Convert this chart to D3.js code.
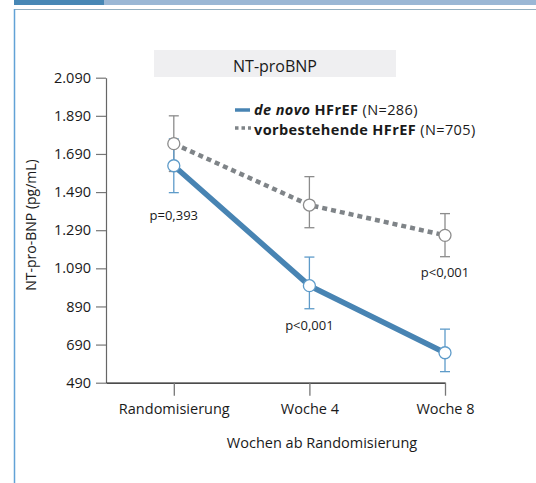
<!DOCTYPE html>
<html>
<head>
<meta charset="utf-8">
<script src="https://cdn.jsdelivr.net/npm/d3@7"></script>
<style>
  body { margin: 0; background: #fff; }
  svg text { font-family: "Open Sans", sans-serif; fill: #1a1a1a; }
</style>
</head>
<body>
<div id="chart"></div>
<script>
// data
var categories = ["Randomisierung", "Woche 4", "Woche 8"];
var deNovoMean = [1628, 999, 647];
var deNovoLow  = [1487, 878, 548];
var deNovoHigh = [1769, 1149, 771];
var vorbMean = [1744, 1422, 1263];
var vorbLow  = [1598, 1303, 1151];
var vorbHigh = [1890, 1571, 1377];
var yTicks = [490, 690, 890, 1090, 1290, 1490, 1690, 1890, 2090];
var pLabels = ["p=0,393", "p<0,001", "p<0,001"];
var pAt = [1343, 766, 1046]; // where the p values sit (data units)

var W = 536, H = 483;
var blue = "#4884b3", blueBar = "#5e9bc9", grey = "#7f8488", greyBar = "#8c8c8c";

var svg = d3.select("#chart").append("svg")
    .attr("width", W)
    .attr("height", H);

// page decoration: banner + frame
svg.append("rect").attr("x", 14).attr("y", 0).attr("width", 90).attr("height", 5).attr("fill", "#4787b5");
svg.append("rect").attr("x", 104).attr("y", 0).attr("width", W - 104).attr("height", 5).attr("fill", "#9ab7d5");
svg.append("line").attr("x1", 14).attr("x2", W).attr("y1", 9.5).attr("y2", 9.5)
    .attr("stroke", "#93afc0").attr("stroke-width", 1.2);
svg.append("line").attr("x1", 14.5).attr("x2", 14.5).attr("y1", 9).attr("y2", H)
    .attr("stroke", "#62a2d6").attr("stroke-width", 1.5);

var x = d3.scaleLinear().domain([-0.5, 2]).range([106, 445]);
var y = d3.scaleLinear().domain([490, 2090]).range([382.7, 77.7]);

var de = d3.formatLocale({ decimal: ",", thousands: ".", grouping: [3], currency: ["", " €"] });

// title box
svg.append("rect").attr("x", 154).attr("y", 50).attr("width", 242).attr("height", 27)
    .attr("fill", "#efeff1");
svg.append("text").attr("x", 275).attr("y", 71.5).attr("text-anchor", "middle")
    .style("font-size", "16px").text("NT-proBNP");

// axes
var yAxis = svg.append("g")
    .attr("transform", "translate(106,0)")
    .call(d3.axisLeft(y).tickValues(yTicks).tickFormat(de.format(",")).tickSize(10).tickPadding(5).tickSizeOuter(0));
yAxis.select(".domain").attr("stroke", "#666").attr("stroke-width", 1.2);
yAxis.selectAll(".tick line").attr("stroke", "#777").attr("stroke-width", 1.2);
yAxis.selectAll("text").style("font-size", "14.5px").attr("fill", "#1a1a1a");

var xAxis = svg.append("g")
    .attr("transform", "translate(0,382.7)")
    .call(d3.axisBottom(x).tickValues([0, 1, 2]).tickFormat(function(d) { return categories[d]; })
        .tickSize(13).tickPadding(8).tickSizeOuter(0));
xAxis.select(".domain").attr("stroke", "#111").attr("stroke-width", 1.3);
xAxis.selectAll(".tick line").attr("stroke", "#777").attr("stroke-width", 1.3);
xAxis.selectAll("text").style("font-size", "14.5px").attr("fill", "#1a1a1a");

svg.append("text").attr("x", 322).attr("y", 448).attr("text-anchor", "middle")
    .style("font-size", "14.5px").text("Wochen ab Randomisierung");

svg.append("text")
    .attr("transform", "translate(36,225) rotate(-90)")
    .attr("text-anchor", "middle")
    .style("font-size", "14px")
    .text("NT-pro-BNP (pg/mL)");

// error bars
function errBars(low, high, col) {
    var g = svg.append("g").attr("stroke", col).attr("stroke-width", 1.3).attr("fill", "none");
    categories.forEach(function(c, i) {
        g.append("line").attr("x1", x(i)).attr("x2", x(i)).attr("y1", y(low[i])).attr("y2", y(high[i]));
        g.append("line").attr("x1", x(i) - 5).attr("x2", x(i) + 5).attr("y1", y(low[i])).attr("y2", y(low[i]));
        g.append("line").attr("x1", x(i) - 5).attr("x2", x(i) + 5).attr("y1", y(high[i])).attr("y2", y(high[i]));
    });
}
errBars(vorbLow, vorbHigh, greyBar);
errBars(deNovoLow, deNovoHigh, blueBar);

var line = d3.line().x(function(d, i) { return x(i); }).y(function(d) { return y(d); });

svg.append("path").datum(vorbMean)
    .attr("d", line).attr("fill", "none").attr("stroke", grey)
    .attr("stroke-width", 4.5).attr("stroke-dasharray", "5,4");
svg.append("path").datum(deNovoMean)
    .attr("d", line).attr("fill", "none").attr("stroke", blue)
    .attr("stroke-width", 5.5).attr("stroke-linejoin", "round");

svg.append("g").selectAll("circle").data(vorbMean).enter().append("circle")
    .attr("cx", function(d, i) { return x(i); }).attr("cy", function(d) { return y(d); })
    .attr("r", 6).attr("fill", "#fff").attr("stroke", greyBar).attr("stroke-width", 1.3);
svg.append("g").selectAll("circle").data(deNovoMean).enter().append("circle")
    .attr("cx", function(d, i) { return x(i); }).attr("cy", function(d) { return y(d); })
    .attr("r", 6).attr("fill", "#fff").attr("stroke", blueBar).attr("stroke-width", 1.3);

// p values
svg.append("g").selectAll("text").data(pLabels).enter().append("text")
    .attr("x", function(d, i) { return x(i); })
    .attr("y", function(d, i) { return y(pAt[i]); })
    .attr("text-anchor", "middle")
    .style("font-size", "13px")
    .text(function(d) { return d; });

// legend
var leg = svg.append("g");
leg.append("line").attr("x1", 235).attr("x2", 250).attr("y1", 110).attr("y2", 110)
    .attr("stroke", blue).attr("stroke-width", 3.5);
leg.append("line").attr("x1", 235).attr("x2", 251).attr("y1", 128).attr("y2", 128)
    .attr("stroke", grey).attr("stroke-width", 3.5).attr("stroke-dasharray", "3.5,3");
var t1 = leg.append("text").attr("x", 254).attr("y", 115).style("font-size", "14.5px").style("letter-spacing", "0.4px");
t1.append("tspan").style("font-weight", "bold").style("font-style", "italic").text("de novo");
t1.append("tspan").style("font-weight", "bold").text(" HFrEF");
t1.append("tspan").text(" (N=286)");
var t2 = leg.append("text").attr("x", 254).attr("y", 135).style("font-size", "14.5px").style("letter-spacing", "0.4px");
t2.append("tspan").style("font-weight", "bold").text("vorbestehende HFrEF");
t2.append("tspan").text(" (N=705)");
</script>
</body>
</html>
